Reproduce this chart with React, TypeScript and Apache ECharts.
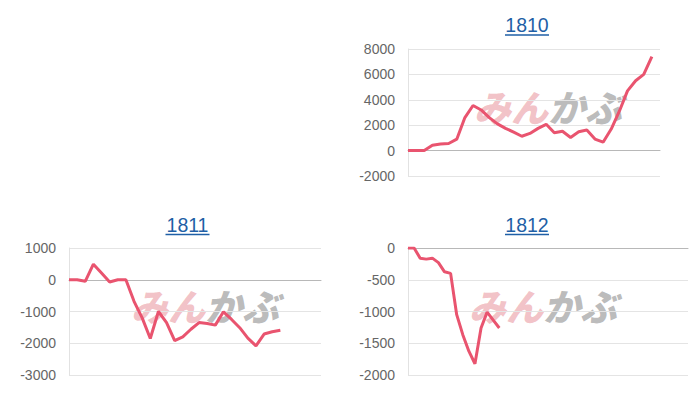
import React, { useEffect, useRef } from "react";
import * as echarts from "echarts";

const titles = ["1810", "1811", "1812"];

const cats32 = ["1","2","3","4","5","6","7","8","9","10","11","12","13","14","15","16","17","18","19","20","21","22","23","24","25","26","27","28","29","30","31","32"];
const cats47 = ["1","2","3","4","5","6","7","8","9","10","11","12","13","14","15","16","17","18","19","20","21","22","23","24","25","26","27","28","29","30","31","32","33","34","35","36","37","38","39","40","41","42","43","44","45","46","47"];

const v1810 = [0, 0, 0, 420, 520, 560, 900, 2600, 3550, 3200, 2600, 2100, 1750, 1450, 1130, 1350, 1750, 2070, 1400, 1520, 1030, 1480, 1620, 910, 660, 1700, 3100, 4700, 5500, 6000, 7400];
const v1811 = [0, 0, -50, 490, 210, -70, 0, 0, -680, -1200, -1850, -1000, -1350, -1920, -1800, -1560, -1350, -1380, -1430, -1010, -1250, -1510, -1840, -2080, -1710, -1640, -1590];
const v1812 = [0, 0, -160, -175, -160, -230, -375, -400, -1050, -1365, -1625, -1823, -1260, -1010, -1135, -1260];

const yMin = [-2000, -3000, -2000];
const yMax = [8000, 1000, 0];
const yStep = [2000, 1000, 500];

const FONT = '"Liberation Sans", Arial, sans-serif';
const LINE = "#e9546f";
const LINK = "#1f5fa6";

export default function App() {
  const ref = useRef<HTMLDivElement>(null);
  useEffect(() => {
    if (!ref.current) return;
    const chart = echarts.init(ref.current, null, { renderer: "svg" });
    const grids = [
      { left: 408, top: 49, width: 252, height: 127 },
      { left: 69, top: 248, width: 252, height: 127 },
      { left: 408, top: 248, width: 280, height: 127 },
    ];
    const cats = [cats32, cats32, cats47];
    const data = [v1810, v1811, v1812];
    const titlePos = [
      { x: 527, y: 25 },
      { x: 187.5, y: 224.5 },
      { x: 527, y: 224.5 },
    ];
    const graphic: any[] = [];
    titles.forEach((t, i) => {
      const p = titlePos[i];
      graphic.push({
        type: "text",
        x: p.x,
        y: p.y,
        style: {
          text: t,
          fill: LINK,
          font: `19.5px ${FONT}`,
          textAlign: "center",
          textVerticalAlign: "middle",
        },
      });
      graphic.push({
        type: "line",
        shape: { x1: p.x - 22, y1: p.y + 10, x2: p.x + 22, y2: p.y + 10 },
        style: { stroke: LINK, lineWidth: 1.3 },
      });
    });
    const wm = [
      { x: 548, y: 106 },
      { x: 205, y: 305 },
      { x: 543, y: 305 },
    ];
    wm.forEach((p) => {
      graphic.push({
        type: "text",
        x: p.x,
        y: p.y,
        z: -10,
        style: {
          text: "{a|みん}{b|かぶ}",
          textAlign: "center",
          textVerticalAlign: "middle",
          rich: {
            a: {
              fill: "rgba(226,120,130,0.45)",
              fontSize: 37,
              fontWeight: 900,
              fontStyle: "italic",
              fontFamily: '"Noto Sans CJK JP"',
            },
            b: {
              fill: "rgba(130,130,130,0.55)",
              fontSize: 37,
              fontWeight: 900,
              fontStyle: "italic",
              fontFamily: '"Noto Sans CJK JP"',
            },
          },
        },
      });
    });

    chart.setOption({
      animation: false,
      grid: grids.map((g) => ({ ...g, containLabel: false })),
      xAxis: grids.map((_, i) => ({
        type: "category",
        gridIndex: i,
        data: cats[i],
        boundaryGap: false,
        axisLabel: { show: false },
        axisTick: { show: false },
        axisLine: { show: true, onZero: true, lineStyle: { color: "#b8b8b8", width: 1 } },
        splitLine: { show: false },
      })),
      yAxis: grids.map((_, i) => ({
        type: "value",
        gridIndex: i,
        min: yMin[i],
        max: yMax[i],
        interval: yStep[i],
        axisLabel: {
          color: "#666",
          fontSize: 14,
          fontFamily: FONT,
          margin: 13,
          formatter: (v: number) => String(v),
        },
        axisTick: { show: false },
        axisLine: { show: true, lineStyle: { color: "#e2e2e2" } },
        splitLine: { show: true, lineStyle: { color: "#e4e4e4" } },
      })),
      series: data.map((d, i) => ({
        type: "line",
        xAxisIndex: i,
        yAxisIndex: i,
        data: d,
        showSymbol: false,
        symbol: "none",
        z: 5,
        lineStyle: { color: LINE, width: 3 },
      })),
      graphic,
    });
    return () => chart.dispose();
  }, []);
  return (
    <div
      ref={ref}
      style={{ position: "fixed", left: 0, top: 0, width: 700, height: 400, background: "#fff" }}
    />
  );
}
